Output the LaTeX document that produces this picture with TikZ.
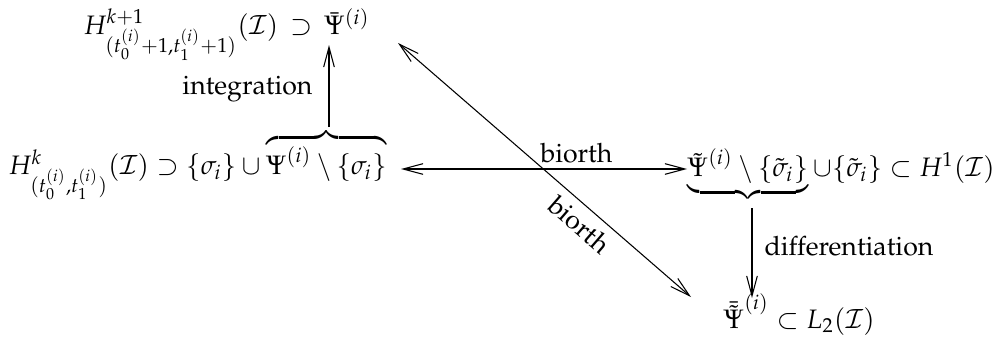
\documentclass[tikz,border=0pt]{standalone}
\usepackage[T1]{fontenc}
\usepackage{mathpazo}
\usetikzlibrary{arrows.meta}
\begin{document}
\begin{tikzpicture}[x=0.375pt,y=-0.375pt,
  mnode/.style={inner sep=0pt, anchor=base west},
  lbl/.style={inner sep=0pt},
  tip/.tip={Straight Barb[length=7.5pt,width=4pt]},
  arr/.style={draw, line width=0.4pt, -tip},
  darr/.style={draw, line width=0.4pt, tip-tip}]
\useasboundingbox (0,0) rectangle (1005,339);
\node[mnode] (top) at (83,34) {$H^{k+1}_{(t_0^{(i)}+1,t_1^{(i)}+1)}(\mathcal{I}) \mathrel{\mkern3mu\supset\mkern3mu} \bar{\Psi}^{(i)}$};
\node[mnode] (left) at (8,174) {$H^{k}_{(t_0^{(i)},t_1^{(i)})}(\mathcal{I}) \supset \{\sigma_i\} \cup \overbrace{\Psi^{(i)} \setminus \{\sigma_i\}}$};
\node[mnode] (right) at (687,176) {$\underbrace{\tilde{\Psi}^{(i)} \setminus \{\tilde{\sigma}_i\}} \cup \{\tilde{\sigma}_i\} \subset H^1(\mathcal{I})$};
\node[mnode] (bot) at (723,328) {$\bar{\tilde{\Psi}}^{(i)} \subset L_2(\mathcal{I})$};
\coordinate (ob) at (329,127);
\coordinate (topPsi) at (329,45);
\coordinate (ub) at (752,208);
\coordinate (botPsi) at (752,298);
\coordinate (hl) at (401,169);
\coordinate (hr) at (687,169);
\coordinate (da) at (398,43);
\coordinate (db) at (691,297);
\path[arr] (ob) -- (topPsi);
\node[lbl, anchor=base east] (lint) at (313,95) {integration};
\path[darr] (hl) -- (hr);
\node[lbl, anchor=base west] (lb1) at (540,162) {biorth};
\path[arr] (ub) -- (botPsi);
\node[lbl, anchor=base west] (ldiff) at (764,255) {differentiation};
\path[darr] (da) -- node[lbl, sloped, pos=0.66, below=3pt] (lb2) {biorth} (db);
\end{tikzpicture}
\end{document}
